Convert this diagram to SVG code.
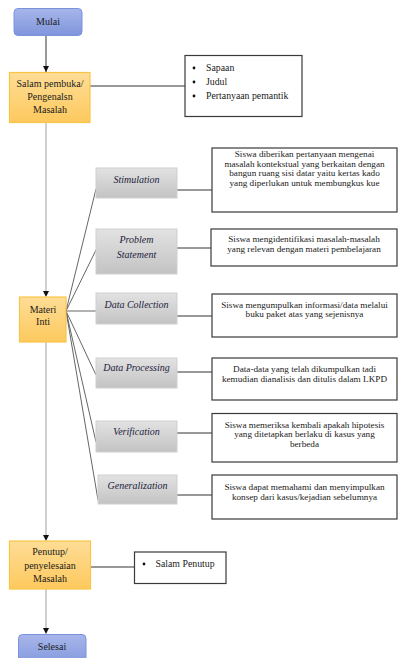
<svg xmlns="http://www.w3.org/2000/svg" width="399" height="658" viewBox="0 0 399 658">
<defs>
<linearGradient id="gBlue" x1="0" y1="0" x2="0" y2="1"><stop offset="0" stop-color="#a7b6ea"/><stop offset="1" stop-color="#7f95dc"/></linearGradient>
<linearGradient id="gOrange" x1="0" y1="0" x2="0" y2="1"><stop offset="0" stop-color="#fedd96"/><stop offset="1" stop-color="#fdc95e"/></linearGradient>
<linearGradient id="gGray" x1="0" y1="0" x2="0" y2="1"><stop offset="0" stop-color="#e2e2e2"/><stop offset="1" stop-color="#c3c3c3"/></linearGradient>
<marker id="arr" viewBox="0 0 6 6" refX="6" refY="3" markerWidth="6" markerHeight="6" markerUnits="userSpaceOnUse" orient="auto"><path d="M0,0 L6,3 L0,6 Z" fill="#111"/></marker>
</defs>
<style>
text{font-family:'Liberation Serif','DejaVu Serif',serif;fill:#1a1a1a;}
.c{text-anchor:middle;font-size:10px;}
.t{text-anchor:middle;font-size:9.2px;}
.g{text-anchor:middle;font-size:10px;font-style:italic;fill:#1c1c3c;}
.b{font-size:9.8px;}
.blue{fill:url(#gBlue);stroke:#7a93dc;stroke-width:1;}
.orange{fill:url(#gOrange);stroke:#f9c548;stroke-width:1.2;}
.gray{fill:url(#gGray);stroke:#cfcfcf;stroke-width:1;}
.box{fill:#fff;stroke:#3a3a3a;stroke-width:1.2;}
.dk{stroke:#333;stroke-width:1;fill:none;}
.lt{stroke:#c4c4c4;stroke-width:1.6;fill:none;}
.fan{stroke:#555;stroke-width:0.9;fill:none;}
</style>
<g id="connectors">
<line class="dk" x1="46" y1="36" x2="46" y2="72" marker-end="url(#arr)"/>
<line class="dk" x1="90" y1="86" x2="185" y2="86"/>
<line class="lt" x1="46" y1="123" x2="46" y2="291"/>
<path d="M43,291 L49,291 L46,297 Z" fill="#111"/>
<line class="fan" x1="66" y1="311" x2="96" y2="189"/>
<line class="fan" x1="66" y1="311" x2="96" y2="250"/>
<line class="fan" x1="66" y1="311" x2="96" y2="311"/>
<line class="fan" x1="66" y1="311" x2="96" y2="375"/>
<line class="fan" x1="66" y1="311" x2="96" y2="442"/>
<line class="fan" x1="66" y1="311" x2="98" y2="500"/>
<line class="dk" x1="177" y1="190" x2="212" y2="190"/>
<line class="dk" x1="177" y1="248" x2="211" y2="248"/>
<line class="dk" x1="177" y1="316" x2="212" y2="316"/>
<line class="dk" x1="177" y1="372" x2="212" y2="372"/>
<line class="dk" x1="177" y1="433" x2="212" y2="433"/>
<line class="dk" x1="177" y1="495" x2="212" y2="495"/>
<line class="lt" x1="46" y1="342" x2="46" y2="535"/>
<path d="M43,535 L49,535 L46,541 Z" fill="#111"/>
<line class="dk" x1="90" y1="567" x2="134" y2="567"/>
<line class="lt" x1="46" y1="589" x2="46" y2="628"/>
<path d="M43,628 L49,628 L46,634 Z" fill="#111"/>
</g>
<g font-family="'Liberation Serif','DejaVu Serif',serif">
<g id="mulai"><rect class="blue" x="14" y="8.5" width="68" height="27" rx="4"/><text class="c" x="48" y="25">Mulai</text></g>
<g id="salam-pembuka"><rect class="orange" x="9.5" y="72.5" width="80.5" height="50"/><text class="c" x="50" y="87">Salam pembuka/</text><text class="c" x="50" y="100">Pengenalsn</text><text class="c" x="50" y="113">Masalah</text></g>
<g id="bullet-pembuka"><rect class="box" x="185" y="55.5" width="117" height="61"/>
<circle cx="194" cy="68" r="1.4" fill="#111"/><text class="b" x="206" y="71">Sapaan</text>
<circle cx="194" cy="82" r="1.4" fill="#111"/><text class="b" x="206" y="85">Judul</text>
<circle cx="194" cy="96" r="1.4" fill="#111"/><text class="b" x="206" y="99">Pertanyaan pemantik</text></g>
<g id="materi-inti"><rect class="orange" x="19.5" y="297" width="46.5" height="45"/><text class="c" x="43" y="313">Materi</text><text class="c" x="43" y="325">Inti</text></g>
<g id="stimulation"><rect class="gray" x="96" y="168" width="81" height="30"/><text class="g" x="136.5" y="183">Stimulation</text></g>
<g id="stimulation-desc"><rect class="box" x="212" y="148" width="185" height="64"/>
<text class="t" x="304.5" y="157">Siswa diberikan pertanyaan mengenai</text>
<text class="t" x="304.5" y="166.5">masalah kontekstual yang berkaitan dengan</text>
<text class="t" x="304.5" y="176">bangun ruang sisi datar yaitu kertas kado</text>
<text class="t" x="304.5" y="185.5">yang diperlukan untuk membungkus kue</text></g>
<g id="problem"><rect class="gray" x="96" y="229" width="81" height="45"/><text class="g" x="136.5" y="243">Problem</text><text class="g" x="136.5" y="258">Statement</text></g>
<g id="problem-desc"><rect class="box" x="211" y="229" width="186" height="37"/>
<text class="t" x="304" y="242">Siswa mengidentifikasi masalah-masalah</text>
<text class="t" x="304" y="251.5">yang relevan dengan materi pembelajaran</text></g>
<g id="data-collection"><rect class="gray" x="96" y="293" width="81" height="31"/><text class="g" x="136.5" y="308">Data Collection</text></g>
<g id="data-collection-desc"><rect class="box" x="212" y="294" width="185" height="43"/>
<text class="t" x="304.5" y="307.5">Siswa mengumpulkan informasi/data melalui</text>
<text class="t" x="304.5" y="317">buku paket atas yang sejenisnya</text></g>
<g id="data-processing"><rect class="gray" x="96" y="358" width="81" height="30"/><text class="g" x="136.5" y="371">Data Processing</text></g>
<g id="data-processing-desc"><rect class="box" x="212" y="358" width="185" height="42"/>
<text class="t" x="304.5" y="372">Data-data yang telah dikumpulkan tadi</text>
<text class="t" x="304.5" y="382">kemudian dianalisis dan ditulis dalam LKPD</text></g>
<g id="verification"><rect class="gray" x="96" y="421" width="81" height="31"/><text class="g" x="136.5" y="435">Verification</text></g>
<g id="verification-desc"><rect class="box" x="212" y="413.5" width="185" height="48.5"/>
<text class="t" x="304.5" y="427.5">Siswa memeriksa kembali apakah hipotesis</text>
<text class="t" x="304.5" y="437">yang ditetapkan berlaku di kasus yang</text>
<text class="t" x="304.5" y="446.5">berbeda</text></g>
<g id="generalization"><rect class="gray" x="98" y="475" width="79" height="29"/><text class="g" x="137.5" y="489">Generalization</text></g>
<g id="generalization-desc"><rect class="box" x="212" y="475" width="185" height="44"/>
<text class="t" x="304.5" y="490">Siswa dapat memahami dan menyimpulkan</text>
<text class="t" x="304.5" y="500">konsep dari kasus/kejadian sebelumnya</text></g>
<g id="penutup"><rect class="orange" x="9.5" y="541" width="81" height="48"/><text class="c" x="50" y="555">Penutup/</text><text class="c" x="50" y="568.5">penyelesaian</text><text class="c" x="50" y="582">Masalah</text></g>
<g id="bullet-penutup"><rect class="box" x="134.5" y="552" width="91.5" height="31.5"/>
<circle cx="144" cy="564" r="1.4" fill="#111"/><text class="b" x="155.5" y="567">Salam Penutup</text></g>
<g id="selesai"><rect class="blue" x="18.5" y="634.5" width="67.5" height="34" rx="4"/><text class="c" x="52" y="650">Selesai</text></g>
</g>
</svg>
